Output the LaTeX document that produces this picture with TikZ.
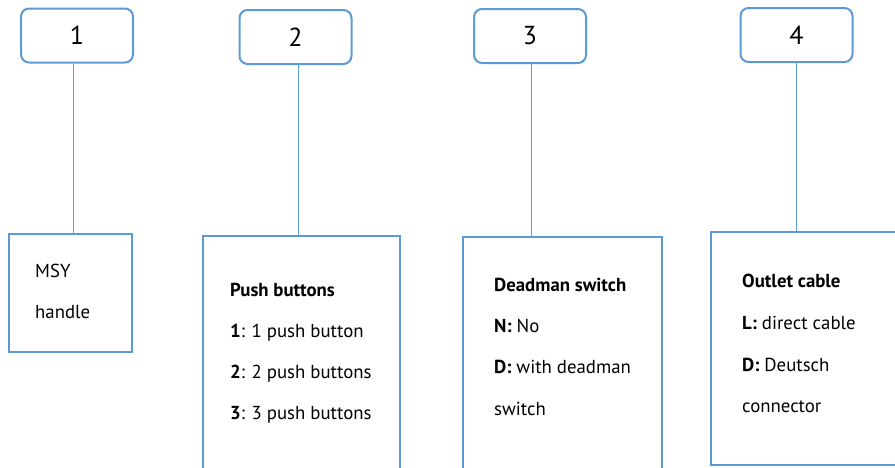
\documentclass[tikz,border=0pt]{standalone}
\usepackage{fontspec}
\setmainfont{PT Sans}
\usepackage{tikz}

\definecolor{boxblue}{HTML}{5B9BD5}

\begin{document}
\begin{tikzpicture}[x=1pt,y=-1pt,
    numbox/.style={draw=boxblue,line width=2pt,rounded corners=8pt,minimum width=112pt,minimum height=54pt,inner sep=0pt,font=\fontsize{26}{30}\selectfont},
    itembox/.style={draw=boxblue,line width=2.2pt,inner sep=0pt},
    link/.style={draw=boxblue,line width=1pt},
    txt/.style={anchor=base west,inner sep=0pt,font=\fontsize{18.8}{22}\selectfont}]
    \useasboundingbox (0,0) rectangle (895,467);
    \clip (0,0) rectangle (895,467);
    % number boxes
    \node[numbox] (n1) at (77,35.5) {1};
    \node[numbox] (n2) at (295.5,37) {2};
    \node[numbox] (n3) at (530,36) {3};
    \node[numbox] (n4) at (796.5,35) {4};
    % item boxes
    \node[itembox,minimum width=123pt,minimum height=118pt] (b1) at (70.5,293) {};
    \node[itembox,minimum width=197pt,minimum height=284pt] (b2) at (301.5,378) {};
    \node[itembox,minimum width=199pt,minimum height=283pt] (b3) at (562.5,378.5) {};
    \node[itembox,minimum width=229pt,minimum height=233pt] (b4) at (825.5,348.5) {};
    % links
    \draw[link] ([xshift=-4pt]n1.south) -- ([xshift=-4pt]n1.south |- b1.north);
    \draw[link] ([xshift=2.5pt]n2.south) -- ([xshift=2.5pt]n2.south |- b2.north);
    \draw[link] ([xshift=1pt]n3.south) -- ([xshift=1pt]n3.south |- b3.north);
    \draw[link] (n4.south) -- (n4.south |- b4.north);
    % texts
    \node[txt] (t1a) at (35,277) {MSY};
    \node[txt] (t1b) at (35,318) {handle};
    \node[txt] (t2a) at (230,296) {\textbf{Push buttons}};
    \node[txt] (t2b) at (230,337) {\textbf{1}: 1 push button};
    \node[txt] (t2c) at (230,378) {\textbf{2}: 2 push buttons};
    \node[txt] (t2d) at (230,419) {\textbf{3}: 3 push buttons};
    \node[txt] (t3a) at (494,291) {\textbf{Deadman switch}};
    \node[txt] (t3b) at (494,332) {\textbf{N:} No};
    \node[txt] (t3c) at (494,373) {\textbf{D:} with deadman};
    \node[txt] (t3d) at (494,415) {switch};
    \node[txt] (t4a) at (742,287) {\textbf{Outlet cable}};
    \node[txt] (t4b) at (742,329) {\textbf{L:} direct cable};
    \node[txt] (t4c) at (742,371) {\textbf{D:} Deutsch};
    \node[txt] (t4d) at (742,412) {connector};
\end{tikzpicture}
\end{document}
